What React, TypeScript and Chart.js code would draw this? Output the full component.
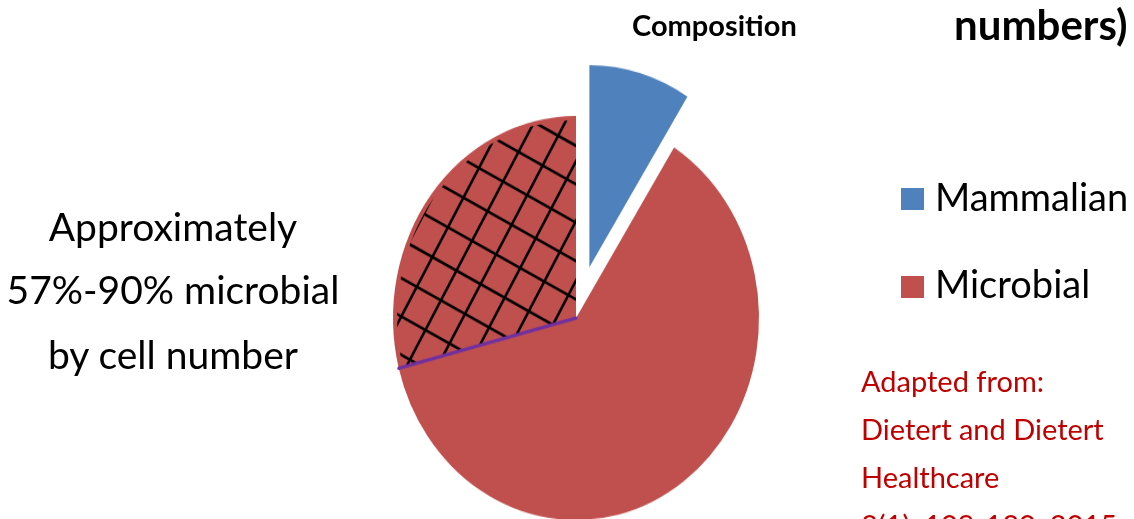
import React, { useEffect, useRef } from 'react';
import { Chart, registerables } from 'chart.js';

Chart.register(...registerables);

// ---- data ----
const categories = ['Mammalian', 'Microbial'];
// pie segments, clockwise from 12 o'clock (the microbial share is split into a solid and a hatched part)
const segmentLabels = ['Mammalian', 'Microbial', 'Microbial (range)'];
const segmentValues = [9, 62, 29];
const explodedSegmentIndex = 0;
const hatchedSegmentIndex = 2;

const titleLeft = 'Composition';
const titleRight = 'numbers)';
const sideNoteLines = ['Approximately', '57%-90% microbial', 'by cell number'];
const sourceLines = ['Adapted from:', 'Dietert and Dietert', 'Healthcare', '3(1), 109-130, 2015'];

// ---- styles ----
const BLUE = '#4f81bd';
const RED = '#c0504d';
const categoryColors = [BLUE, RED];
const segmentColors = [BLUE, RED, RED];
const EXPLODE_DISTANCE = 48;
const STRETCH_Y = 519 / 470;
const FONT = 'Lato, "Open Sans", sans-serif';
const BASE = 0.887; // Lato baseline offset for line-height 1

const explodePlugin = {
  id: 'explodePlugin',
  afterDatasetUpdate(chart: any, args: any) {
    const meta = chart.getDatasetMeta(args.index);
    const arc = meta.data[explodedSegmentIndex];
    if (!arc) return;
    const mid = (arc.startAngle + arc.endAngle) / 2;
    arc.x += Math.cos(mid) * EXPLODE_DISTANCE;
    arc.y += Math.sin(mid) * EXPLODE_DISTANCE;
  },
};

const hatchPlugin = {
  id: 'hatchPlugin',
  afterDatasetsDraw(chart: any) {
    const arc = chart.getDatasetMeta(0).data[hatchedSegmentIndex];
    if (!arc) return;
    const { x, y, startAngle, endAngle, outerRadius } = arc.getProps(
      ['x', 'y', 'startAngle', 'endAngle', 'outerRadius'],
      true
    );
    const ctx = chart.ctx;
    ctx.save();
    ctx.beginPath();
    ctx.moveTo(x, y);
    ctx.arc(x, y, outerRadius - 4, startAngle, endAngle);
    ctx.closePath();
    ctx.clip();
    ctx.strokeStyle = '#000000';
    ctx.lineWidth = 2.5;
    const family = (deg: number, spacing: number, phase: number) => {
      const a = (deg * Math.PI) / 180;
      const dx = Math.cos(a);
      const dy = Math.sin(a);
      const nx = -dy;
      const ny = dx;
      const L = outerRadius * 2;
      for (let k = -14; k <= 14; k++) {
        const d = k * spacing + phase;
        const cx = x + nx * d;
        const cy = y + ny * d;
        ctx.beginPath();
        ctx.moveTo(cx - dx * L, cy - dy * L);
        ctx.lineTo(cx + dx * L, cy + dy * L);
        ctx.stroke();
      }
    };
    family(-60, 27, 10);
    family(27, 31, 16);
    ctx.restore();

    ctx.save();
    ctx.strokeStyle = '#7030a0';
    ctx.lineWidth = 3;
    ctx.lineCap = 'round';
    ctx.beginPath();
    ctx.moveTo(x, y);
    ctx.lineTo(x + Math.cos(startAngle) * outerRadius, y + Math.sin(startAngle) * outerRadius);
    ctx.stroke();
    ctx.restore();
  },
};

function Line({ text, left, baseline, size, bold, color, align, width }: any) {
  const style: React.CSSProperties = {
    position: 'absolute',
    top: baseline - BASE * size,
    fontFamily: FONT,
    fontSize: size,
    lineHeight: 1,
    fontWeight: bold ? 700 : 400,
    color: color || '#000000',
    whiteSpace: 'nowrap',
  };
  if (align === 'center') {
    style.left = left - width / 2;
    style.width = width;
    style.textAlign = 'center';
  } else {
    style.left = left;
  }
  return <div style={style}>{text}</div>;
}

export default function App() {
  const canvasRef = useRef<HTMLCanvasElement | null>(null);

  useEffect(() => {
    document.body.style.margin = '0';
    const canvas = canvasRef.current;
    if (!canvas) return;
    const chart = new Chart(canvas, {
      type: 'pie',
      data: {
        labels: segmentLabels,
        datasets: [
          {
            data: segmentValues,
            backgroundColor: segmentColors,
            borderWidth: 0,
            offset: 0,
            hoverOffset: 0,
          },
        ],
      },
      options: {
        responsive: false,
        animation: false,
        events: [],
        rotation: 0,
        layout: { padding: { left: 393, right: 375, top: 105, bottom: 105 } },
        plugins: {
          legend: { display: false },
          tooltip: { enabled: false },
          title: { display: false },
        },
      },
      plugins: [explodePlugin, hatchPlugin],
    } as any);
    return () => chart.destroy();
  }, []);

  return (
    <div
      style={{
        position: 'fixed',
        left: 0,
        top: 0,
        width: 1134,
        height: 519,
        overflow: 'hidden',
        background: '#ffffff',
      }}
    >
      <div
        style={{
          position: 'absolute',
          left: 0,
          top: 0,
          width: 1134,
          height: 576,
          transform: `scaleY(${STRETCH_Y})`,
          transformOrigin: '0 0',
        }}
      >
        <canvas ref={canvasRef} width={1134} height={576} style={{ display: 'block' }} />
      </div>

      <Line text={titleLeft} left={632} baseline={36} size={29} bold />
      <Line text={titleRight} left={954} baseline={40} size={42} bold />

      {sideNoteLines.map((t, i) => (
        <Line key={t} text={t} left={173} width={360} align="center" baseline={[242, 305, 370][i]} size={39} />
      ))}

      {categories.map((c, i) => (
        <div key={c}>
          <div
            style={{
              position: 'absolute',
              left: 901,
              top: [188, 276][i],
              width: 23,
              height: 22,
              background: categoryColors[i],
            }}
          />
          <Line text={c} left={935} baseline={[211, 298][i]} size={38} />
        </div>
      ))}

      {sourceLines.map((t, i) => (
        <Line key={t} text={t} left={861} baseline={392 + i * 48} size={29} color="#c00000" />
      ))}
    </div>
  );
}
